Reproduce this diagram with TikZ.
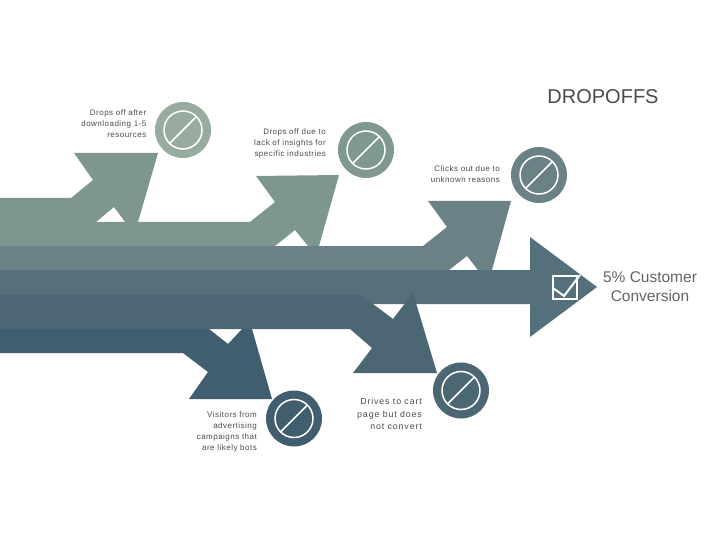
\documentclass[tikz,border=0pt]{standalone}
\usepackage{fontspec}
\setmainfont{Liberation Sans}
\definecolor{cA}{HTML}{7D968F}
\definecolor{cB}{HTML}{6A8285}
\definecolor{cC}{HTML}{54707A}
\definecolor{cD}{HTML}{4B6774}
\definecolor{cE}{HTML}{405E70}
\definecolor{cA0}{HTML}{98AB9F}
\definecolor{cA1}{HTML}{7F9890}
\definecolor{cT}{HTML}{4A4A4A}
\newcommand{\smalltxt}{\fontsize{8}{11}\selectfont\addfontfeature{LetterSpace=6}}
\tikzset{
  note/.style={font=\smalltxt,text=cT,align=right,anchor=north east,inner sep=0pt},
  bigtxt/.style={text=cT,inner sep=0pt},
  disc/.style={circle,minimum size=56pt,inner sep=0pt,draw=none},
  ring/.style={white,line width=1.5pt},
  pics/nosign/.style={code={
    \draw[ring] (0,0) circle (19pt);
    \draw[ring] (-13.4pt,-13.4pt) -- (13.4pt,13.4pt);
  }}
}
\begin{document}
\begin{tikzpicture}[x=1pt,y=-1pt]
\useasboundingbox[fill=white] (0,0) rectangle (720,540);
% bottom arrow
\fill[cE] (0,329) -- (209,329) -- (228,344) -- (242,329) -- (252,329) -- (272,399) -- (189,399) -- (208,372) -- (183,353) -- (0,353) -- cycle;
% top arrows
\fill[cA] (0,198) -- (71,198) -- (93,180) -- (74,153) -- (158,153) -- (138,222) -- (125,222) -- (114,207) -- (96,222) -- (0,222) -- cycle;
\fill[cA] (0,222) -- (250,222) -- (275,202) -- (256,176) -- (339,175) -- (319,246) -- (308,246) -- (295,230) -- (275,246) -- (0,246) -- cycle;
% third arrow
\fill[cB] (0,246) -- (423,246) -- (447,227) -- (428,201) -- (511,201) -- (492,270) -- (478,270) -- (467,256) -- (449,270) -- (0,270) -- cycle;
% main arrow
\fill[cC] (0,270) -- (530,270) -- (530,237) -- (597,287) -- (530,337) -- (530,304) -- (0,304) -- cycle;
% fourth arrow
\fill[cD] (0,295) -- (360,295) -- (373,304) -- (393,319) -- (413,293) -- (437,373) -- (353,373) -- (372,348) -- (350,329) -- (0,329) -- cycle;
% discs
\node[disc,fill=cA0] (d1) at (183,130) {};
\node[disc,fill=cA1] (d2) at (366,150) {};
\node[disc,fill=cB] (d3) at (539,175) {};
\node[disc,fill=cE] (d4) at (294,418.5) {};
\node[disc,fill=cD] (d5) at (461,390.5) {};
\foreach \n in {d1,d2,d3,d4,d5} \pic at (\n) {nosign};
% check box
\node[draw=white,line width=2pt,minimum width=24pt,minimum height=23pt,inner sep=0pt] (box) at (564.5,287.5) {};
\draw[white,line width=2pt] (553,288) -- (564,296) -- (580,275);
% text
\node[note] (t1) at (146.5,110) {Drops off after\\downloading 1-5\\resources};
\node[note] (t2) at (326,129) {Drops off due to\\lack of insights for\\specific industries};
\node[note] (t3) at (500,165.5) {Clicks out due to\\unknown reasons};
\node[note] (t4) at (257,411.5) {Visitors from\\advertising\\campaigns that\\are likely bots};
\node[note,font=\fontsize{8.8}{12.5}\selectfont\addfontfeature{LetterSpace=10}] (t5) at (422,398) {Drives to cart\\page but does\hspace{2pt}\\not convert};
\node[bigtxt,text=cT!85,font=\fontsize{15.5}{19}\selectfont,align=center] (t6) at (650,286.5) {5\% Customer\\Conversion};
\node[bigtxt,font=\fontsize{20}{24}\selectfont] (t7) at (603,97) {DROPOFFS};
\end{tikzpicture}
\end{document}
